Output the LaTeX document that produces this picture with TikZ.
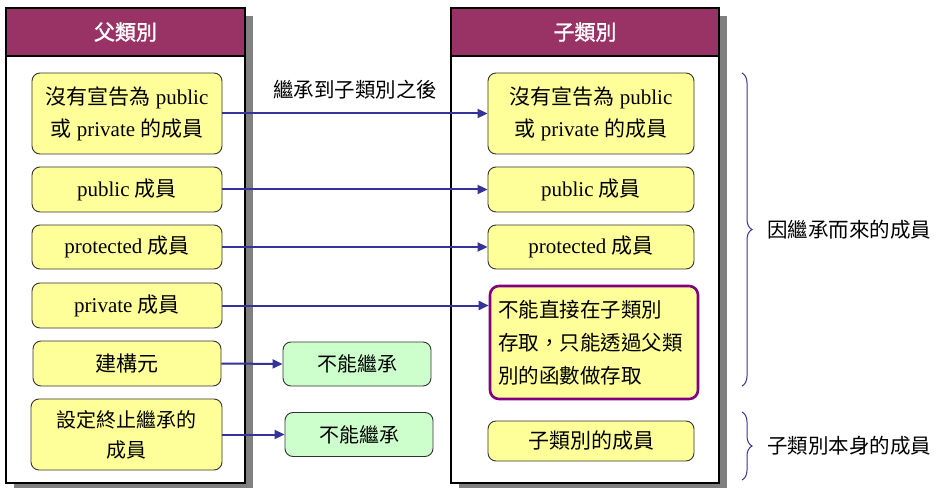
\documentclass[tikz,border=0pt]{standalone}
\usepackage{fontspec}
\setmainfont{Liberation Serif}
\newfontfamily\cjk{Noto Sans CJK TC}
\newfontfamily\cjkb[FakeBold=1.5]{Noto Sans CJK TC}
\newcommand{\zhs}[1]{{\cjk #1}}
\usetikzlibrary{arrows.meta,decorations.pathreplacing}
\definecolor{hdr}{HTML}{993366}
\definecolor{yel}{HTML}{FFFF99}
\definecolor{grn}{HTML}{CCFFCC}
\definecolor{navy}{HTML}{333399}
\definecolor{purp}{HTML}{800080}
\definecolor{shd}{HTML}{808080}
\tikzset{
  panel/.style={draw=black, line width=1.5pt, fill=white, inner sep=0pt},
  header/.style={draw=black, line width=1.5pt, fill=hdr, inner sep=0pt, text=white, font=\cjkb\fontsize{21}{24}\selectfont},
  ybox/.style={draw=black!80, line width=0.9pt, fill=yel, rounded corners=8pt, inner sep=0pt, align=center, font=\fontsize{21}{32}\selectfont},
  gbox/.style={draw=black!80, line width=0.9pt, fill=grn, rounded corners=8pt, inner sep=0pt, align=center, font=\cjk\fontsize{20}{32}\selectfont},
  pbox/.style={draw=purp, line width=2.6pt, fill=yel, rounded corners=9pt, inner sep=0pt, align=left, font=\cjk\fontsize{20.5}{33}\selectfont},
  arr/.style={draw=navy, line width=2pt, -{Triangle[length=10pt,width=9pt]}},
  brc/.style={draw=navy, line width=1pt, decorate, decoration={brace, amplitude=10pt}},
  lbl/.style={inner sep=0pt, font=\cjk\fontsize{20.5}{24}\selectfont}
}
\begin{document}
\begin{tikzpicture}[x=1pt,y=-1pt]
\useasboundingbox (0,0) rectangle (937,489);
% shadows
\fill[shd] (14,16) rectangle (253,488);
\fill[shd] (459,16) rectangle (727,488);
% panels
\node[panel, minimum width=239pt, minimum height=475pt] (lp) at (125.5,245.5) {};
\node[header, minimum width=239pt, minimum height=48pt] (lh) at (125.5,32) {父類別};
\node[panel, minimum width=268pt, minimum height=475pt] (rp) at (585,245.5) {};
\node[header, minimum width=268pt, minimum height=48pt] (rh) at (585,32) {子類別};
% left boxes
\node[ybox, minimum width=190pt, minimum height=81pt] (l1) at (127,113.5) {\zhs{沒有宣告為} public\\\zhs{或} private \zhs{的成員}};
\node[ybox, minimum width=190pt, minimum height=45pt] (l2) at (127,189.5) {public \zhs{成員}};
\node[ybox, minimum width=190pt, minimum height=44pt] (l3) at (127,247) {protected \zhs{成員}};
\node[ybox, minimum width=190pt, minimum height=45pt] (l4) at (127,305.5) {private \zhs{成員}};
\node[ybox, minimum width=188pt, minimum height=45pt] (l5) at (127,363.5) {\zhs{建構元}};
\node[ybox, minimum width=191pt, minimum height=71pt, font=\fontsize{20}{30}\selectfont] (l6) at (126.5,434.5) {\zhs{設定終止繼承的}\\\zhs{成員}};
% green boxes
\node[gbox, minimum width=148pt, minimum height=44pt] (g1) at (357,364) {不能繼承};
\node[gbox, minimum width=148pt, minimum height=44pt] (g2) at (359,434.5) {不能繼承};
% right boxes
\node[ybox, minimum width=206pt, minimum height=81pt] (r1) at (591,113.5) {\zhs{沒有宣告為} public\\\zhs{或} private \zhs{的成員}};
\node[ybox, minimum width=206pt, minimum height=45pt] (r2) at (591,189.5) {public \zhs{成員}};
\node[ybox, minimum width=206pt, minimum height=44pt] (r3) at (591,247) {protected \zhs{成員}};
\node[pbox, minimum width=208pt, minimum height=113pt, text width=192pt] (r4) at (594,342.5) {不能直接在子類別\\存取，只能透過父類\\別的函數做存取};
\node[ybox, minimum width=206pt, minimum height=40pt] (r5) at (591,441) {\zhs{子類別的成員}};
% arrows
\draw[arr] (l1.east) -- (r1.west);
\draw[arr] (l2.east) -- (r2.west);
\draw[arr] (l3.east) -- (r3.west);
\draw[arr] (l4.east) -- (l4.east -| r4.west);
\draw[arr] (l5.east) -- (g1.west);
\draw[arr] (l6.east) -- (l6.east -| g2.west);
% label
\node[lbl] (inh) at (355,90) {繼承到子類別之後};
% braces
\coordinate (b1t) at (742,73);
\coordinate (b1b) at (742,386);
\coordinate (b2t) at (742,412);
\coordinate (b2b) at (742,480);
\draw[brc] (b1t) -- (b1b);
\draw[brc] (b2t) -- (b2b);
\node[lbl, anchor=west] (t1) at (767,230) {因繼承而來的成員};
\node[lbl, anchor=west] (t2) at (767,446) {子類別本身的成員};
\end{tikzpicture}
\end{document}
